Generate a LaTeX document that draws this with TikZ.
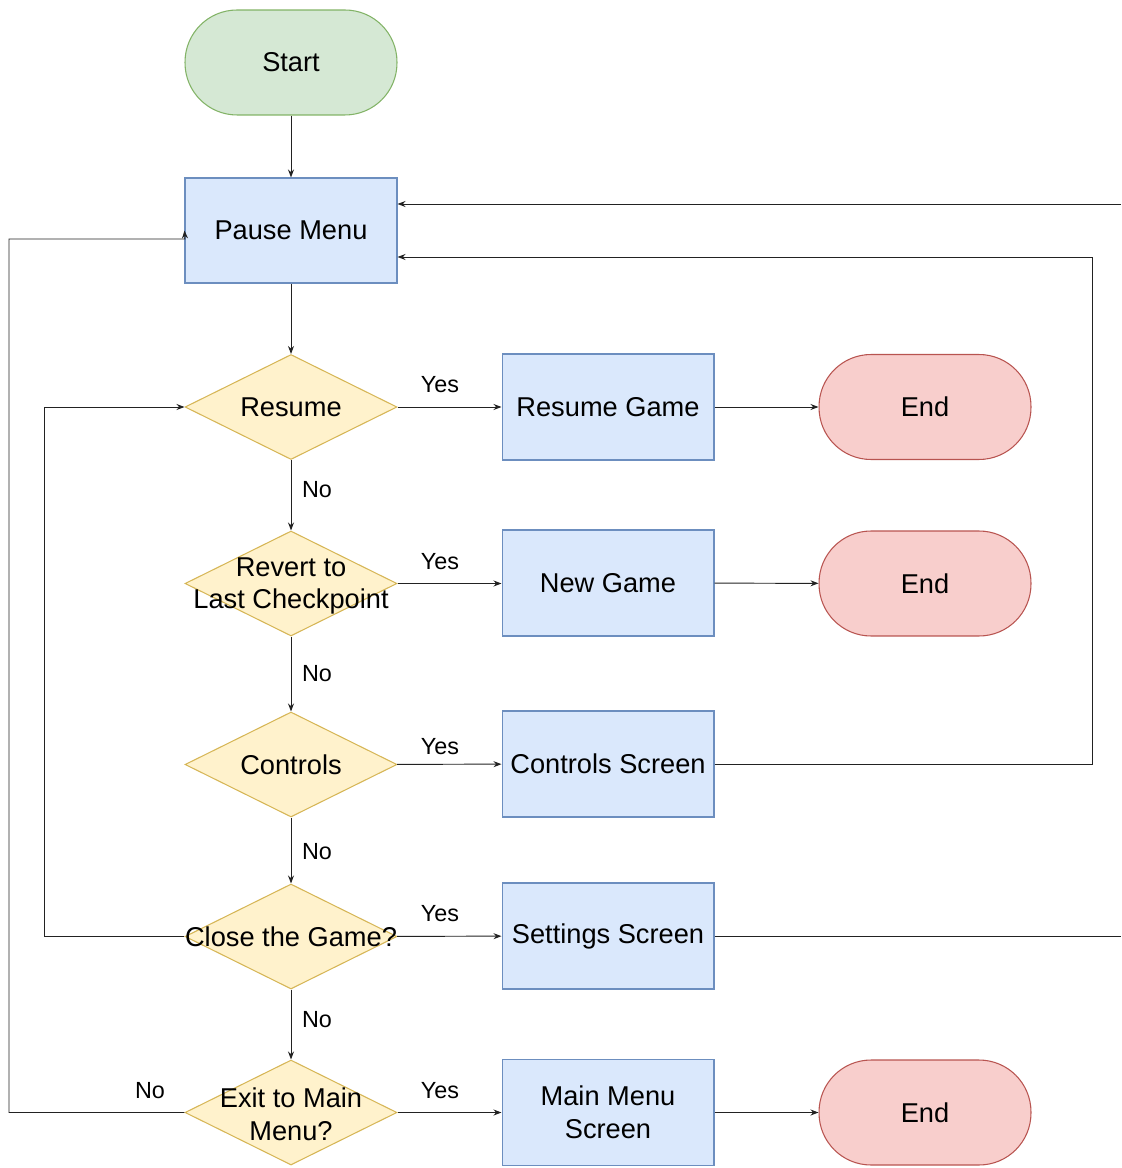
\documentclass[tikz,border=0pt]{standalone}
\usepackage{fontspec}
\setmainfont{Liberation Sans}
\usetikzlibrary{shapes.geometric,arrows.meta}

\definecolor{gfill}{HTML}{D5E8D4}\definecolor{gline}{HTML}{82B366}
\definecolor{bfill}{HTML}{DAE8FC}\definecolor{bline}{HTML}{6C8EBF}
\definecolor{yfill}{HTML}{FFF2CC}\definecolor{yline}{HTML}{D6B656}
\definecolor{rfill}{HTML}{F8CECC}\definecolor{rline}{HTML}{B85450}
\definecolor{edgec}{HTML}{222222}

\begin{document}
\begin{tikzpicture}[x=0.02cm,y=-0.02cm,
  txt/.style={font=\fontsize{15.5}{18.5}\selectfont, align=center, inner sep=0pt},
  lbl/.style={font=\fontsize{13.3}{15}\selectfont, inner sep=0pt},
  terminal/.style={rectangle, rounded corners=1.04cm, draw=#1line, fill=#1fill,
    line width=0.6pt, minimum width=4.24cm, minimum height=2.1cm, txt},
  stepbox/.style={rectangle, draw=bline, fill=bfill, line width=0.6pt,
    minimum width=4.24cm, minimum height=2.12cm, txt},
  decision/.style={diamond, aspect=2, draw=yline, fill=yfill, line width=0.6pt,
    minimum width=4.24cm, minimum height=2.1cm, inner sep=0pt},
  dtext/.style={label={[txt]center:#1}},
  edge/.style={draw=edgec, line width=0.55pt, -{Stealth[length=1.6mm,width=1.2mm]}},
  plain/.style={draw=edgec, line width=0.55pt},
]
\useasboundingbox (0,0) rectangle (1121,1168);

% main column
\node[terminal=g] (start) at (291,62.5) {Start};
\node[stepbox, minimum height=2.1cm] (pause) at (291,230.5) {Pause Menu};
\node[decision, dtext={Resume}] (resume) at (291,407) {};
\node[decision] (revert) at (291,583.5) {};
\node[txt] (reverttext) at (291,586) {Revert to\\Last Checkpoint};
\node[decision, dtext={Controls}] (controls) at (291,764.5) {};
\node[decision, dtext={Close the Game?}] (close) at (291,936.5) {};
\node[decision] (exit) at (291,1112.5) {};
\node[txt] (exittext) at (291,1114) {Exit to Main\\Menu?};

% action column
\node[stepbox] (rgame) at (608,407) {Resume Game};
\node[stepbox] (ngame) at (608,583) {New Game};
\node[stepbox] (cscreen) at (608,764) {Controls Screen};
\node[stepbox] (sscreen) at (608,936) {Settings Screen};
\node[stepbox] (mscreen) at (608,1112.5) {Main Menu\\Screen};

% end states
\node[terminal=r] (end1) at (925,407) {End};
\node[terminal=r] (end2) at (925,583.5) {End};
\node[terminal=r] (end3) at (925,1112.5) {End};

% vertical flow
\draw[edge] (start) -- (pause);
\draw[edge] (pause) -- (resume);
\draw[edge] (resume) -- (revert);
\draw[edge] (revert) -- (controls);
\draw[edge] (controls) -- (close);
\draw[edge] (close) -- (exit);

% yes branches
\draw[edge] (resume) -- (rgame);
\draw[edge] (revert.east) -- (ngame.west |- revert.east);
\draw[edge] (controls) -- (cscreen);
\draw[edge] (close) -- (sscreen);
\draw[edge] (exit) -- (mscreen);
\draw[edge] (rgame) -- (end1);
\draw[edge] (ngame) -- (end2);
\draw[edge] (mscreen) -- (end3);

% return paths
\coordinate (cr) at (1092,257);
\draw[edge] (cscreen.east) -| (cr) -- (pause.east |- cr);

\coordinate (sr) at (1121,936);
\coordinate (st) at (1121,204);
\draw[plain] (sscreen.east) -- (sr);
\draw[edge] (st) -- (pause.east |- st);

\coordinate (cl) at (44,407);
\draw[edge] (close.west) -| (cl) -- (resume.west);

\coordinate (el) at (9,239);
\coordinate (ec) at (185,239);
\draw[edge] (exit.west) -| (el) -- (ec) -- (pause.west);

% branch labels
\node[lbl] (y1) at (440,385) {Yes};
\node[lbl] (y2) at (440,562) {Yes};
\node[lbl] (y3) at (440,747) {Yes};
\node[lbl] (y4) at (440,914) {Yes};
\node[lbl] (y5) at (440,1091) {Yes};
\node[lbl] (n1) at (317,490) {No};
\node[lbl] (n2) at (317,674) {No};
\node[lbl] (n3) at (317,852) {No};
\node[lbl] (n4) at (317,1020) {No};
\node[lbl] (n5) at (150,1091) {No};
\end{tikzpicture}
\end{document}
